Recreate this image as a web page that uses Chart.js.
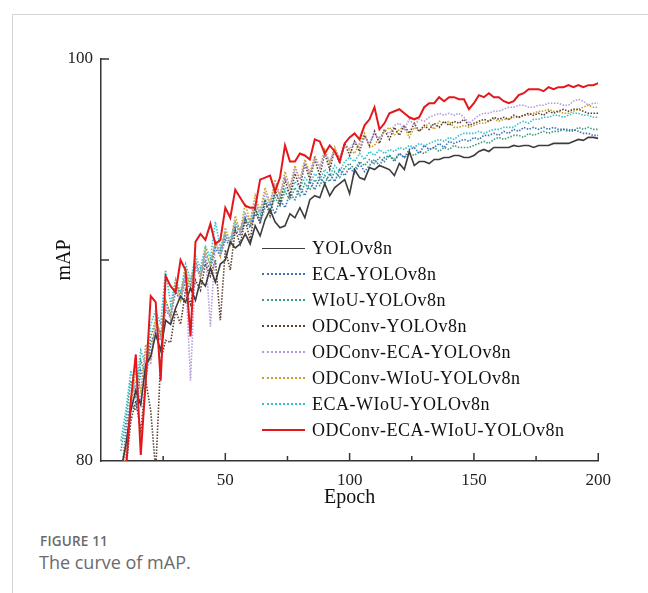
<!DOCTYPE html>
<html>
<head>
<meta charset="utf-8">
<script src="https://cdn.jsdelivr.net/npm/chart.js@4"></script>
<style>
  html, body { margin: 0; padding: 0; background: #fff; }
  body { width: 648px; height: 593px; position: relative; overflow: hidden; }
  #card { position: absolute; left: 12px; top: 14px; width: 640px; height: 590px;
          border-top: 1px solid #d4d4d4; border-left: 1px solid #d4d4d4; }
  #wrap { position: absolute; left: 20px; top: 40px; width: 600px; height: 470px; }
  #legend { position: absolute; left: 262px; top: 235px; font-family: "Liberation Serif", "DejaVu Serif", serif;
            font-size: 18px; color: #111; letter-spacing: 0.5px; }
  .row { height: 26px; display: flex; align-items: center; white-space: nowrap; }
  .sample { width: 43px; height: 0; margin-right: 7px; }
  #fig { position: absolute; left: 40px; top: 532px; font-family: "Open Sans", "Lato", sans-serif;
         font-size: 13.5px; font-weight: 600; color: #6a6a6a; letter-spacing: 0.2px; }
  #cap { position: absolute; left: 39px; top: 550px; font-family: "Open Sans", "Lato", sans-serif;
         font-size: 18px; color: #6a6a6a; }
</style>
</head>
<body>
<div id="card"></div>
<div id="wrap"><canvas id="c" width="600" height="470"></canvas></div>
<div id="legend"></div>
<div id="fig">FIGURE 11</div>
<div id="cap">The curve of mAP.</div>
<script>
const epochs = [8,10,12,14,16,18,20,22,24,26,
  28,30,32,34,36,38,40,42,44,46,
  48,50,52,54,56,58,60,62,64,66,
  68,70,72,74,76,78,80,82,84,86,
  88,90,92,94,96,98,100,102,104,106,
  108,110,112,114,116,118,120,122,124,126,
  128,130,132,134,136,138,140,142,144,146,
  148,150,152,154,156,158,160,162,164,166,
  168,170,172,174,176,178,180,182,184,186,
  188,190,192,194,196,198,200];

const seriesNames = ["YOLOv8n","ECA-YOLOv8n","WIoU-YOLOv8n","ODConv-YOLOv8n",
  "ODConv-ECA-YOLOv8n","ODConv-WIoU-YOLOv8n","ECA-WIoU-YOLOv8n","ODConv-ECA-WIoU-YOLOv8n"];

const yolov8n = [79.5,80.8,82.5,83.5,82.8,84.8,85.2,86.3,85.5,87.0,
  86.8,87.6,88.2,87.9,88.6,88.0,89.0,88.7,89.6,88.9,
  89.8,90.0,90.9,90.6,90.8,91.3,90.8,91.7,91.2,92.0,
  92.5,91.9,91.6,91.7,92.3,92.1,92.6,92.1,93.0,93.2,
  93.1,93.8,93.2,93.6,93.8,94.0,93.3,94.5,94.1,94.0,
  94.6,94.5,94.7,94.6,94.5,94.2,94.8,94.5,95.4,94.7,
  94.9,94.9,94.8,95.0,95.0,95.1,95.1,95.2,95.2,95.1,
  95.1,95.2,95.4,95.5,95.4,95.6,95.6,95.6,95.6,95.7,
  95.65,95.7,95.7,95.6,95.7,95.7,95.7,95.8,95.8,95.8,
  95.8,95.9,96.0,95.95,96.1,96.1,96.05];

const ecaYolo = [79.0,81.5,83.0,82.5,84.5,84.0,85.8,86.5,86.0,87.5,
  87.2,88.4,88.0,89.0,88.5,89.6,89.2,90.0,89.5,90.6,
  90.2,91.0,90.7,91.5,91.2,92.0,91.6,92.3,91.9,92.6,
  92.8,92.3,93.0,92.6,93.3,93.0,93.6,93.2,93.9,93.5,
  94.1,93.8,94.3,93.9,94.5,94.2,94.6,94.3,94.8,94.4,
  94.7,95.0,94.7,95.1,95.2,94.9,95.3,95.1,95.5,95.6,
  95.3,95.7,95.5,95.6,95.8,95.6,95.9,95.8,95.9,96.0,
  95.9,96.1,96.0,96.2,96.2,96.3,96.2,96.4,96.3,96.5,
  96.4,96.6,96.5,96.6,96.5,96.6,96.5,96.6,96.5,96.5,
  96.4,96.5,96.4,96.3,96.3,96.2,96.2];

const wiouYolo = [80.5,82.0,84.0,83.2,85.0,84.2,86.2,87.0,86.3,88.0,
  87.3,88.8,88.3,89.3,88.8,89.9,89.3,90.3,89.8,90.8,
  90.4,91.2,90.8,91.7,91.4,92.1,91.7,92.5,92.1,92.8,
  92.5,93.1,92.7,93.4,93.0,93.6,93.2,93.8,93.5,94.0,
  93.7,94.2,93.9,94.4,94.1,94.6,94.8,94.5,94.9,94.7,
  95.0,94.8,95.1,94.9,95.2,95.0,95.3,95.1,95.3,95.2,
  95.4,95.3,95.5,95.6,95.4,95.6,95.5,95.7,95.6,95.6,
  95.6,95.7,95.8,95.9,95.8,96.0,96.1,96.0,96.1,96.2,
  96.2,96.1,96.3,96.2,96.3,96.4,96.3,96.4,96.4,96.5,
  96.5,96.4,96.6,96.5,96.6,96.5,96.5];

const odconvYolo = [78.0,79.5,82.0,83.0,81.5,84.0,82.5,79.5,85.0,86.0,
  85.9,87.5,86.8,88.5,87.8,89.0,88.5,89.8,89.2,90.0,
  87.0,90.5,89.5,91.5,90.8,92.0,91.0,92.6,91.8,93.0,
  92.2,93.5,92.8,94.0,93.2,94.3,93.6,94.8,94.0,95.0,
  94.2,95.3,94.5,95.5,94.8,95.8,95.2,95.9,95.4,96.2,
  95.7,96.4,95.8,96.5,96.0,96.6,96.2,96.7,96.3,96.8,
  96.4,96.7,96.5,96.8,96.6,96.9,96.7,96.9,96.8,97.0,
  96.7,96.8,96.9,97.0,96.9,97.1,97.0,97.1,97.0,97.2,
  97.1,97.2,97.3,97.2,97.3,97.2,97.4,97.3,97.4,97.5,
  97.4,97.5,97.5,97.4,97.3,97.3,97.3];

const odconvEcaYolo = [79.0,81.0,82.5,84.0,83.0,85.5,84.8,86.8,86.0,87.8,
  87.0,88.6,88.0,89.3,84.0,89.8,89.2,90.4,86.7,90.8,
  90.3,91.3,90.9,91.8,91.4,92.3,91.9,92.8,92.4,93.3,
  92.8,93.7,93.2,94.1,93.6,94.5,94.0,94.8,94.3,95.0,
  94.6,95.3,94.9,95.5,95.1,95.7,95.5,95.9,95.6,96.1,
  95.8,96.3,96.0,96.4,96.3,96.7,96.8,96.5,97.0,96.7,
  97.0,96.9,97.1,97.2,97.3,97.2,97.3,97.2,97.3,97.1,
  96.8,97.0,97.2,97.3,97.3,97.4,97.4,97.5,97.6,97.6,
  97.7,97.7,97.6,97.6,97.7,97.7,97.8,97.8,97.8,97.7,
  97.7,97.9,98.0,97.9,97.7,97.8,97.8];

const odconvWiouYolo = [78.5,80.5,82.8,84.5,83.5,85.8,85.0,87.2,86.2,88.0,
  87.2,89.0,88.0,89.6,88.5,90.0,89.0,90.6,89.7,91.0,
  90.2,91.6,90.8,92.2,91.4,92.8,91.9,93.2,92.4,93.6,
  92.8,94.0,93.2,94.4,93.6,94.7,94.0,95.0,94.3,95.2,
  94.6,95.5,94.8,95.6,95.0,95.8,95.5,95.3,95.8,96.3,
  95.6,95.7,96.1,96.4,96.6,96.2,96.5,96.6,96.1,96.6,
  96.4,96.6,96.8,96.5,96.9,96.8,96.9,96.6,96.6,96.7,
  96.6,96.7,96.8,96.8,96.9,97.0,96.9,97.0,97.0,97.1,
  97.1,97.2,97.2,97.3,97.4,97.4,97.5,97.4,97.4,97.3,
  97.3,97.4,97.5,97.6,97.7,97.6,97.6];

const ecaWiouYolo = [81.0,82.5,84.5,83.5,85.5,84.8,86.8,87.5,86.8,89.5,
  87.8,89.0,88.4,89.8,89.0,90.2,89.6,90.7,90.1,91.9,
  90.6,91.4,91.0,91.9,91.5,92.3,91.9,92.7,92.3,93.0,
  92.7,93.3,93.0,93.6,93.3,93.9,93.6,94.1,93.8,94.3,
  94.0,94.5,94.2,94.7,94.4,94.9,95.1,94.9,95.3,95.0,
  95.4,95.2,95.5,95.3,95.5,95.4,95.6,95.5,95.7,95.6,
  95.8,95.7,95.8,95.9,96.0,95.9,96.1,96.0,96.2,96.3,
  96.3,96.3,96.4,96.3,96.4,96.5,96.5,96.6,96.6,96.6,
  96.8,96.9,96.8,97.0,97.0,97.1,97.1,97.2,97.2,97.1,
  97.2,97.3,97.3,97.2,97.2,97.1,97.1];

const fullModel = [78.0,79.5,83.0,85.3,80.3,84.0,88.2,87.9,84.0,89.2,
  88.7,88.4,90.0,89.5,86.2,90.9,91.3,91.0,91.8,90.8,
  91.0,92.6,92.1,93.5,93.1,92.7,92.6,92.6,94.0,94.1,
  94.2,93.4,94.1,95.7,94.9,94.9,95.3,95.2,95.0,96.0,
  95.9,95.3,95.7,95.4,94.9,95.8,96.1,96.3,96.0,96.7,
  97.0,97.6,96.5,96.8,97.3,97.4,97.5,97.3,97.1,97.0,
  97.1,97.6,97.8,97.8,98.1,97.9,98.1,98.1,98.0,98.0,
  97.5,97.8,98.2,98.1,98.3,98.1,98.1,97.9,97.8,97.9,
  98.2,98.3,98.5,98.5,98.5,98.4,98.6,98.5,98.6,98.6,
  98.7,98.6,98.7,98.6,98.7,98.7,98.8];

const xTickValues = [25,50,75,100,125,150,175,200];
const xTickLabels = [50,100,150,200];
const yTickLabels = [80,100];

const allSeries = [yolov8n, ecaYolo, wiouYolo, odconvYolo, odconvEcaYolo, odconvWiouYolo, ecaWiouYolo, fullModel];
allSeries.forEach((s, k) => { if (s.length !== epochs.length) throw new Error(seriesNames[k] + " length " + s.length); });

const styles = [
  { color: "#3c3c3c", dash: [], width: 1.6, order: 1 },
  { color: "#3b74b5", dash: [1.5, 1.5], width: 1.6, order: 5 },
  { color: "#3a9c80", dash: [1.5, 1.5], width: 1.6, order: 6 },
  { color: "#5e3f2e", dash: [1.5, 1.5], width: 1.6, order: 3 },
  { color: "#b49be0", dash: [1.5, 1.5], width: 1.6, order: 2 },
  { color: "#c9a02c", dash: [1.5, 1.5], width: 1.6, order: 4 },
  { color: "#2fc3d3", dash: [1.5, 1.5], width: 1.6, order: 7 },
  { color: "#e3171c", dash: [], width: 2, order: 0 }
];

const datasets = allSeries.map((s, k) => ({
  label: seriesNames[k],
  data: epochs.map((e, i) => ({ x: e, y: s[i] })),
  borderColor: styles[k].color,
  borderDash: styles[k].dash,
  borderWidth: styles[k].width,
  order: styles[k].order,
  pointRadius: 0,
  tension: 0,
  fill: false
}));

const serif = "'Liberation Serif', 'DejaVu Serif', serif";

const innerTicks = {
  id: 'innerTicks',
  afterDraw(chart) {
    const { ctx, chartArea, scales } = chart;
    ctx.save();
    ctx.strokeStyle = '#333';
    ctx.lineWidth = 1.5;
    xTickValues.forEach(v => {
      const px = scales.x.getPixelForValue(v);
      const len = v % 50 === 0 ? 8 : 5;
      ctx.beginPath();
      ctx.moveTo(px, chartArea.bottom);
      ctx.lineTo(px, chartArea.bottom - len);
      ctx.stroke();
    });
    [90, 100].forEach(v => {
      const py = scales.y.getPixelForValue(v);
      ctx.beginPath();
      ctx.moveTo(chartArea.left, py);
      ctx.lineTo(chartArea.left + 8, py);
      ctx.stroke();
    });
    ctx.restore();
  }
};

const chart = new Chart(document.getElementById('c'), {
  type: 'line',
  data: { datasets },
  options: {
    responsive: false,
    animation: false,
    layout: { padding: { top: 19, right: 20, left: 0, bottom: 0 } },
    plugins: { legend: { display: false }, tooltip: { enabled: false } },
    scales: {
      x: {
        type: 'linear', min: 0, max: 200,
        afterFit: s => { s.height = 49; },
        grid: { display: false, drawTicks: false },
        border: { display: true, color: '#333', width: 1.5 },
        ticks: {
          stepSize: 25, padding: 9, color: '#222', maxRotation: 0, autoSkip: false,
          font: { family: serif, size: 17 },
          callback: v => xTickLabels.includes(v) ? String(v) : ''
        },
        title: { display: true, text: 'Epoch', color: '#111', font: { family: serif, size: 20 }, padding: { top: 0, bottom: 0 } }
      },
      y: {
        min: 80, max: 100,
        afterFit: s => { s.width = 81; },
        grid: { display: false, drawTicks: false },
        border: { display: true, color: '#333', width: 1.5 },
        ticks: {
          stepSize: 10, padding: 8, color: '#222',
          font: { family: serif, size: 17 },
          callback: v => yTickLabels.includes(v) ? String(v) : ''
        },
        title: { display: true, text: 'mAP', color: '#111', font: { family: serif, size: 20 }, padding: { top: 33, bottom: 0 } }
      }
    }
  },
  plugins: [innerTicks]
});

// HTML legend built from the chart's datasets
const legendEl = document.getElementById('legend');
chart.data.datasets.forEach(ds => {
  const row = document.createElement('div');
  row.className = 'row';
  const sample = document.createElement('div');
  sample.className = 'sample';
  const solid = !ds.borderDash || ds.borderDash.length === 0;
  sample.style.borderTop = (solid ? (ds.borderWidth >= 2 ? '2px solid ' : '1.5px solid ') : '2px dotted ') + ds.borderColor;
  const txt = document.createElement('span');
  txt.textContent = ds.label;
  row.appendChild(sample);
  row.appendChild(txt);
  legendEl.appendChild(row);
});
</script>
</body>
</html>
